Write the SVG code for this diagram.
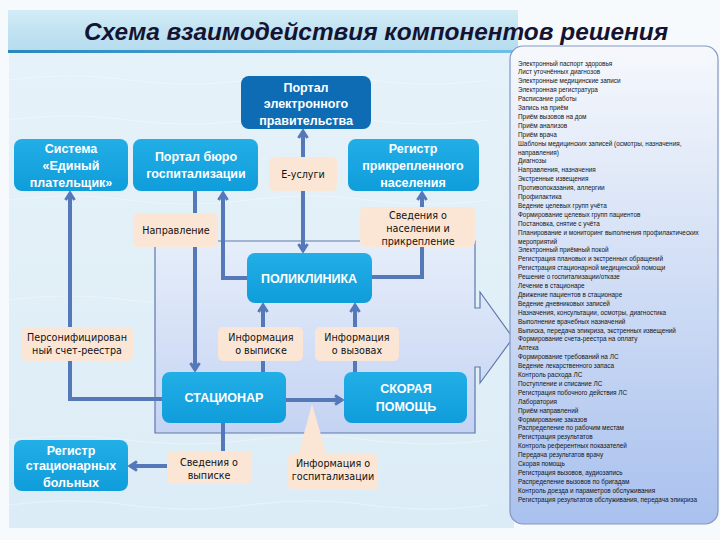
<svg xmlns="http://www.w3.org/2000/svg" width="720" height="540" viewBox="0 0 720 540">
<defs>
<linearGradient id="bg" x1="0" y1="0" x2="0" y2="1">
<stop offset="0" stop-color="#e6f2f9"/><stop offset="1" stop-color="#dcecf6"/>
</linearGradient>
<linearGradient id="band" x1="0" y1="0" x2="0" y2="1">
<stop offset="0" stop-color="#d3ecf7"/><stop offset="0.5" stop-color="#c2e3f2"/><stop offset="1" stop-color="#b5dcef"/>
</linearGradient>
<linearGradient id="bandline" x1="0" y1="0" x2="1" y2="0">
<stop offset="0" stop-color="#2b86bd"/><stop offset="1" stop-color="#6fc0e4"/>
</linearGradient>
<linearGradient id="panel" x1="0" y1="0" x2="0" y2="1">
<stop offset="0" stop-color="#f6f8fc"/><stop offset="0.35" stop-color="#dbe5f7"/><stop offset="1" stop-color="#a9c1ee"/>
</linearGradient>
<linearGradient id="big" x1="0" y1="0" x2="0" y2="1">
<stop offset="0" stop-color="#e6eefa"/><stop offset="1" stop-color="#c4d3f3"/>
</linearGradient>
<linearGradient id="node" x1="0" y1="0" x2="0" y2="1">
<stop offset="0" stop-color="#22aee6"/><stop offset="1" stop-color="#0f9ddb"/>
</linearGradient>
<marker id="ah" viewBox="0 0 12 12" refX="9" refY="6" markerWidth="12" markerHeight="12" markerUnits="userSpaceOnUse" orient="auto-start-reverse">
<path d="M2,1.5 L9,6 L2,10.5" fill="none" stroke="#5578b8" stroke-width="3" stroke-linejoin="miter"/>
</marker>
</defs>
<style>
.node rect{fill:url(#node);}
.dark rect{fill:#0d6cb4;}
.nt{font-family:"Liberation Sans","DejaVu Sans",sans-serif;font-weight:bold;font-size:12.5px;fill:#ffffff;text-anchor:middle;}
.lbl rect{fill:#fbe6d5;}
.lt{font-family:"DejaVu Sans","Liberation Sans",sans-serif;font-size:9.6px;fill:#111111;text-anchor:middle;}
.c{fill:none;stroke:#5578b8;stroke-width:4;}
.list{font-family:"Liberation Sans","DejaVu Sans",sans-serif;font-size:6.4px;fill:#151515;}
</style>
<rect x="0" y="0" width="720" height="540" fill="#f7fafc"/>
<rect x="9" y="52" width="505" height="476" fill="url(#bg)"/>
<g opacity="0.35" fill="none" stroke="#ffffff" stroke-width="1.2">
<path d="M9,80 q60,-8 120,0 t120,0 t120,0 t120,0"/>
<path d="M9,120 q60,-8 120,0 t120,0 t120,0 t120,0"/>
<path d="M9,200 q60,-8 120,0 t120,0 t120,0 t120,0"/>
<path d="M9,300 q60,-8 120,0 t120,0 t120,0 t120,0"/>
<path d="M9,440 q60,-8 120,0 t120,0 t120,0 t120,0"/>
<path d="M9,505 q60,-8 120,0 t120,0 t120,0 t120,0"/>
</g>
<rect x="8" y="10" width="510" height="40" fill="url(#band)"/>
<rect x="8" y="50" width="510" height="3" fill="url(#bandline)"/>
<text x="376" y="40" font-family="Liberation Sans, DejaVu Sans, sans-serif" font-size="24" font-weight="bold" font-style="italic" fill="#141432" text-anchor="middle" textLength="584" lengthAdjust="spacingAndGlyphs">Схема взаимодействия компонентов решения</text>

<g id="big-arrow">
<path d="M155,241 H475 V308 H480 V292 L513,338 L480,383 V367 H475 V433 H155 Z" fill="url(#big)" stroke="#5e78ac" stroke-width="1.2"/>
</g>

<g id="panel-list">
<rect x="510" y="46" width="208" height="478" rx="13" fill="url(#panel)" stroke="#8197c2" stroke-width="1.2"/>
<g class="list">
<text x="518" y="65.5">Электронный паспорт здоровья</text>
<text x="518" y="74.4">Лист уточнённых диагнозов</text>
<text x="518" y="83.3">Электронные медицинские записи</text>
<text x="518" y="92.2">Электронная регистратура</text>
<text x="518" y="101.1">Расписание работы</text>
<text x="518" y="110">Запись на приём</text>
<text x="518" y="118.9">Приём вызовов на дом</text>
<text x="518" y="127.8">Приём анализов</text>
<text x="518" y="136.7">Приём врача</text>
<text x="518" y="145.6">Шаблоны медицинских записей (осмотры, назначения,</text>
<text x="518" y="154.5">направления)</text>
<text x="518" y="163.4">Диагнозы</text>
<text x="518" y="172.3">Направления, назначения</text>
<text x="518" y="181.2">Экстренные извещения</text>
<text x="518" y="190.1">Противопоказания, аллергии</text>
<text x="518" y="199">Профилактика</text>
<text x="518" y="207.9">Ведение целевых групп учёта</text>
<text x="518" y="216.8">Формирование целевых групп пациентов</text>
<text x="518" y="225.7">Постановка, снятие с учёта</text>
<text x="518" y="234.6">Планирование и мониторинг выполнения профилактических</text>
<text x="518" y="243.5">мероприятий</text>
<text x="518" y="252.4">Электронный приёмный покой</text>
<text x="518" y="261.3">Регистрация плановых и экстренных обращений</text>
<text x="518" y="270.2">Регистрация стационарной медицинской помощи</text>
<text x="518" y="279.1">Решение о госпитализации/отказе</text>
<text x="518" y="288">Лечение в стационаре</text>
<text x="518" y="296.9">Движение пациентов в стационаре</text>
<text x="518" y="305.8">Ведение дневниковых записей</text>
<text x="518" y="314.7">Назначения, консультации, осмотры, диагностика</text>
<text x="518" y="323.6">Выполнение врачебных назначений</text>
<text x="518" y="332.5">Выписка, передача эпикриза, экстренных извещений</text>
<text x="518" y="341.4">Формирование счета-реестра на оплату</text>
<text x="518" y="350.3">Аптека</text>
<text x="518" y="359.2">Формирование требований на ЛС</text>
<text x="518" y="368.1">Ведение лекарственного запаса</text>
<text x="518" y="377">Контроль расхода ЛС</text>
<text x="518" y="385.9">Поступление и списание ЛС</text>
<text x="518" y="394.8">Регистрация побочного действия ЛС</text>
<text x="518" y="403.7">Лаборатория</text>
<text x="518" y="412.6">Приём направлений</text>
<text x="518" y="421.5">Формирование заказов</text>
<text x="518" y="430.4">Распределение по рабочим местам</text>
<text x="518" y="439.3">Регистрация результатов</text>
<text x="518" y="448.2">Контроль референтных показателей</text>
<text x="518" y="457.1">Передача результатов врачу</text>
<text x="518" y="466">Скорая помощь</text>
<text x="518" y="474.9">Регистрация вызовов, аудиозапись</text>
<text x="518" y="483.8">Распределение вызовов по бригадам</text>
<text x="518" y="492.7">Контроль доезда и параметров обслуживания</text>
<text x="518" y="501.6">Регистрация результатов обслуживания, передача эпикриза</text>
</g>
</g>

<g id="connectors">
<path class="c" d="M162,399 H70 V193" marker-end="url(#ah)"/>
<path class="c" d="M195,191 V370" marker-end="url(#ah)"/>
<path class="c" d="M247,278 H223 V193" marker-end="url(#ah)"/>
<path class="c" d="M303,131 V251" marker-start="url(#ah)" marker-end="url(#ah)"/>
<path class="c" d="M372,277 H422 V193" marker-end="url(#ah)"/>
<path class="c" d="M263,372 V305" marker-end="url(#ah)"/>
<path class="c" d="M355,372 V305" marker-end="url(#ah)"/>
<path class="c" d="M286,400 H342" marker-end="url(#ah)"/>
<path class="c" d="M223,423 V455"/>
<path class="c" d="M167,466 H130" marker-end="url(#ah)"/>
</g>

<g id="n-portal-gov" class="node dark">
<rect x="241" y="76" width="130" height="53" rx="8"/>
<text class="nt" x="306" y="92">Портал</text>
<text class="nt" x="306" y="108">электронного</text>
<text class="nt" x="306" y="125">правительства</text>
</g>
<g id="n-payer" class="node">
<rect x="14" y="139" width="114" height="52" rx="8"/>
<text class="nt" x="71" y="153">Система</text>
<text class="nt" x="71" y="170">«Единый</text>
<text class="nt" x="71" y="187">плательщик»</text>
</g>
<g id="n-bureau" class="node">
<rect x="133" y="139" width="125" height="52" rx="8"/>
<text class="nt" x="196" y="161">Портал бюро</text>
<text class="nt" x="196" y="178">госпитализации</text>
</g>
<g id="n-register-pop" class="node">
<rect x="348" y="139" width="131" height="52" rx="8"/>
<text class="nt" x="413" y="153">Регистр</text>
<text class="nt" x="413" y="170">прикрепленного</text>
<text class="nt" x="413" y="187">населения</text>
</g>
<g id="n-clinic" class="node">
<rect x="247" y="253" width="125" height="50" rx="8"/>
<text class="nt" x="309" y="283" font-size="12">ПОЛИКЛИНИКА</text>
</g>
<g id="n-hospital" class="node">
<rect x="162" y="372" width="124" height="51" rx="8"/>
<text class="nt" x="224" y="402" font-size="12">СТАЦИОНАР</text>
</g>
<g id="n-ambulance" class="node">
<rect x="344" y="372" width="123" height="51" rx="8"/>
<text class="nt" x="406" y="393" font-size="13">СКОРАЯ</text>
<text class="nt" x="406" y="411" font-size="13">ПОМОЩЬ</text>
</g>
<g id="n-register-hosp" class="node">
<rect x="14" y="440" width="114" height="51" rx="8"/>
<text class="nt" x="71" y="455">Регистр</text>
<text class="nt" x="71" y="470">стационарных</text>
<text class="nt" x="71" y="487">больных</text>
</g>

<g id="l-eservices" class="lbl">
<rect x="269" y="157" width="68" height="34" rx="5"/>
<text class="lt" x="303" y="178">Е-услуги</text>
</g>
<g id="l-referral" class="lbl">
<rect x="133" y="213" width="85" height="34" rx="5"/>
<text class="lt" x="176" y="234">Направление</text>
</g>
<g id="l-popinfo" class="lbl">
<rect x="360" y="207" width="115" height="40" rx="5"/>
<text class="lt" x="418" y="219">Сведения о</text>
<text class="lt" x="418" y="232">населении и</text>
<text class="lt" x="418" y="245">прикрепление</text>
</g>
<g id="l-invoice" class="lbl">
<rect x="21" y="327" width="112" height="34" rx="5"/>
<text class="lt" x="77" y="341">Персонифицирован</text>
<text class="lt" x="77" y="354">ный счет-реестра</text>
</g>
<g id="l-discharge-info" class="lbl">
<rect x="218" y="327" width="85" height="34" rx="5"/>
<text class="lt" x="261" y="341">Информация</text>
<text class="lt" x="261" y="354">о выписке</text>
</g>
<g id="l-calls-info" class="lbl">
<rect x="315" y="327" width="84" height="34" rx="5"/>
<text class="lt" x="357" y="341">Информация</text>
<text class="lt" x="357" y="354">о вызовах</text>
</g>
<g id="l-discharge" class="lbl">
<rect x="167" y="451" width="85" height="33" rx="5"/>
<text class="lt" x="209" y="466">Сведения о</text>
<text class="lt" x="209" y="479">выписке</text>
</g>
<g id="l-hosp-info" class="lbl">
<polygon points="312,404 298,456 327,456" fill="#fbe6d5"/>
<rect x="288" y="454" width="90" height="36" rx="5"/>
<text class="lt" x="333" y="467">Информация о</text>
<text class="lt" x="333" y="480">госпитализации</text>
</g>
</svg>
